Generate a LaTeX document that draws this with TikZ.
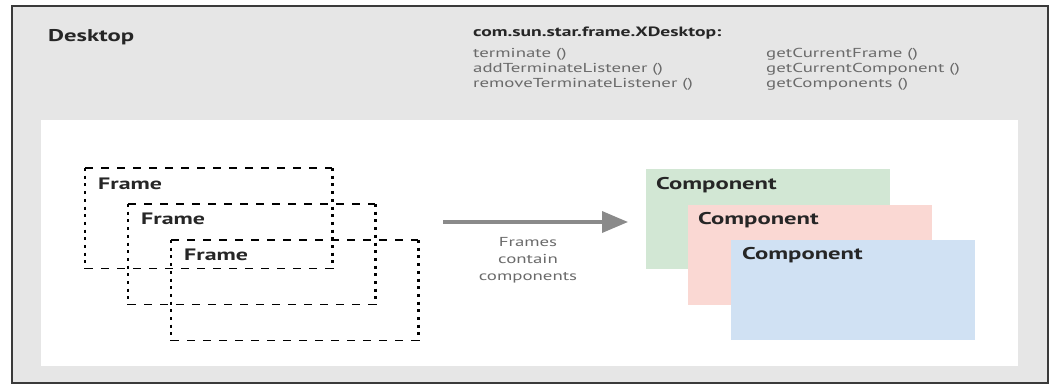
\documentclass[tikz,border=0pt]{standalone}
\usepackage{fontspec}
\setmainfont{PT Sans}[FakeStretch=1.45]
\usetikzlibrary{arrows.meta}

\definecolor{deskgray}{HTML}{E6E6E6}
\definecolor{edgegray}{HTML}{3A3A3A}
\definecolor{arrowgray}{HTML}{8A8A8A}
\definecolor{textgray}{HTML}{6A6A6A}
\definecolor{compgreen}{HTML}{D2E7D4}
\definecolor{comppink}{HTML}{FAD8D3}
\definecolor{compblue}{HTML}{D0E1F3}

\begin{document}
\begin{tikzpicture}[x=1pt, y=-1pt,
  framebox/.style={minimum width=247pt, minimum height=100pt, anchor=north west, inner sep=0pt},
  hdash/.style={line width=1.6pt, dash pattern=on 8pt off 8pt},
  vdash/.style={line width=2.2pt, dash pattern=on 3pt off 4.7pt},
  compbox/.style={minimum width=244pt, minimum height=100pt, anchor=north west, inner sep=0pt},
  boxlabel/.style={anchor=west, inner sep=0pt, text=black!85,
    font=\fontsize{16.5}{18}\selectfont\bfseries},
  method/.style={anchor=north west, align=left, inner sep=0pt, text=textgray,
    font=\fontsize{13}{15}\selectfont}
]

\useasboundingbox (0,0) rectangle (1056,383);

% Desktop background and inner white panel
\node[draw=edgegray, line width=2pt, fill=deskgray, anchor=north west, inner sep=0pt,
  minimum width=1036pt, minimum height=377pt] (desk) at (11,5) {};
\node[fill=white, anchor=north west, inner sep=0pt,
  minimum width=977pt, minimum height=246pt] (panel) at (41,120) {};

% Header texts
\node[anchor=west, inner sep=0pt, text=black!85, font=\fontsize{17}{20}\selectfont\bfseries]
  (desktop) at (48,37) {Desktop};
\node[anchor=west, inner sep=0pt, text=black!85, font=\fontsize{13.5}{16}\selectfont\bfseries]
  (iface) at (473,33) {com.sun.star.frame.XDesktop:};
\node[method] (methodsA) at (473,48) {terminate ()\\addTerminateListener ()\\removeTerminateListener ()};
\node[method] (methodsB) at (766,48) {getCurrentFrame ()\\getCurrentComponent ()\\getComponents ()};

% Frames (dashed, overlapping)
\node[framebox] (F1) at (85,168) {};
\node[framebox] (F2) at (128,204) {};
\node[framebox] (F3) at (171,240) {};
\foreach \f in {F1,F2,F3} {
  \draw[hdash] (\f.north west) -- (\f.north east) (\f.south west) -- (\f.south east);
  \draw[vdash] (\f.north west) -- (\f.south west) (\f.north east) -- (\f.south east);
}
\node[boxlabel] (f1) at ([xshift=13pt,yshift=-16pt]F1.north west) {Frame};
\node[boxlabel] (f2) at ([xshift=13pt,yshift=-15pt]F2.north west) {Frame};
\node[boxlabel] (f3) at ([xshift=13pt,yshift=-15pt]F3.north west) {Frame};

% Arrow with caption
\coordinate (A1) at (443,222);
\coordinate (A2) at (628,222);
\draw[arrowgray, line width=3.5pt, -{Triangle[length=26pt,width=21pt]}] (A1) -- (A2);
\node[align=center, inner sep=0pt, text=textgray, font=\fontsize{13}{17}\selectfont]
  (caption) at (528,260) {Frames\\contain\\components};

% Components (filled, overlapping)
\node[compbox, fill=compgreen] (C1) at (646,169) {};
\node[compbox, fill=comppink] (C2) at (688,205) {};
\node[compbox, fill=compblue] (C3) at (731,240) {};
\node[boxlabel, font=\fontsize{17}{18}\selectfont\bfseries] (c1) at ([xshift=10pt,yshift=-16pt]C1.north west) {Component};
\node[boxlabel, font=\fontsize{17}{18}\selectfont\bfseries] (c2) at ([xshift=10pt,yshift=-15pt]C2.north west) {Component};
\node[boxlabel, font=\fontsize{17}{18}\selectfont\bfseries] (c3) at ([xshift=11pt,yshift=-15pt]C3.north west) {Component};

\end{tikzpicture}
\end{document}
